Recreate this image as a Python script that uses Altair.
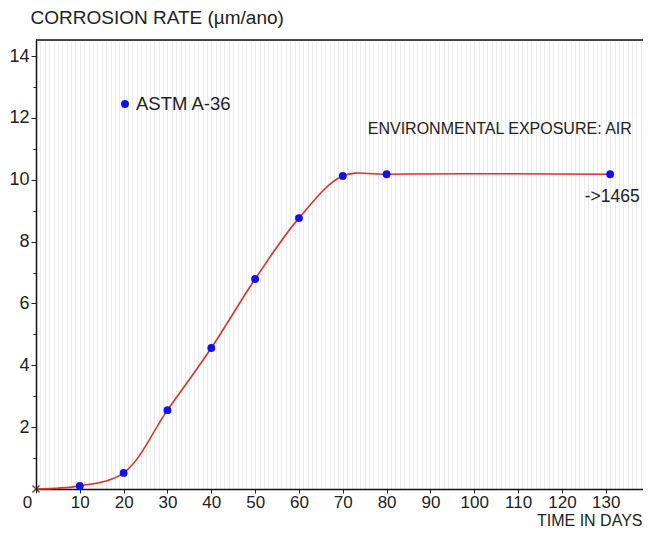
import altair as alt
import pandas as pd

# Measured data (time in days, corrosion rate µm/ano)
days = [10, 20, 30, 40, 50, 60, 70, 80, 131]
rate = [0.1, 0.52, 2.55, 4.56, 6.79, 8.76, 10.12, 10.18, 10.18]

# curve starts at origin
curve_days = [0] + days
curve_rate = [0.0] + rate

origin_x = [0]
origin_y = [0]

legend_x = [20.3]
legend_y = [12.45]
legend_label = ["ASTM A-36"]

env_x = [75.7]
env_y = [11.64]
env_label = ["ENVIRONMENTAL EXPOSURE: AIR"]

note_x = [125.2]
note_y = [9.44]
note_label = ["->1465"]

x_grid_values = list(range(0, 139))
y_tick_values = list(range(1, 15))

FONT = "Liberation Sans"
W, H = 607, 449

pts = pd.DataFrame({"d": days, "r": rate})
curve = pd.DataFrame({"d": curve_days, "r": curve_rate})
origin = pd.DataFrame({"d": origin_x, "r": origin_y})
legend = pd.DataFrame({"d": legend_x, "r": legend_y, "t": legend_label})
env = pd.DataFrame({"d": env_x, "r": env_y, "t": env_label})
note = pd.DataFrame({"d": note_x, "r": note_y, "t": note_label})

xscale = alt.Scale(domain=[0, 138.5], nice=False, zero=False)
yscale = alt.Scale(domain=[0, 14.52], nice=False, zero=False)

x_axis = alt.Axis(
    values=x_grid_values,
    grid=True,
    gridColor="#ececec",
    gridWidth=1,
    labelExpr="(datum.value % 10 == 0 && datum.value <= 130) ? datum.value : ''",
    labelOverlap=False,
    labelFlush=False,
    labelFont=FONT,
    labelFontSize=17,
    labelColor="#222222",
    labelPadding=1,
    labelOffset={"condition": {"test": "datum.value == 0", "value": -9}, "value": 0},
    tickOpacity={"condition": {"test": "datum.value % 10 == 0", "value": 1}, "value": 0},
    tickColor="#222222",
    tickSize=4,
    domainColor="#111111",
    domainWidth=1.5,
    title="TIME IN DAYS",
    titleFont=FONT,
    titleFontSize=16,
    titleFontWeight="normal",
    titleColor="#222222",
    titleAlign="right",
    titleAnchor="end",
    titleBaseline="middle",
    titleX=606,
    titleY=31,
)

y_axis = alt.Axis(
    values=y_tick_values,
    grid=False,
    labelExpr="datum.value % 2 == 0 ? datum.value : ''",
    labelOverlap=False,
    labelFlush=False,
    labelFont=FONT,
    labelFontSize=18,
    labelColor="#222222",
    labelPadding=2,
    tickSize={"condition": {"test": "datum.value % 2 == 0", "value": 5}, "value": 3},
    tickColor="#222222",
    domainColor="#111111",
    domainWidth=1.5,
    title="CORROSION RATE (µm/ano)",
    titleFont=FONT,
    titleFontSize=19,
    titleFontWeight="normal",
    titleColor="#222222",
    titleAngle=0,
    titleAlign="left",
    titleBaseline="middle",
    titleX=-6,
    titleY=-23,
)

X = lambda: alt.X("d:Q", scale=xscale, axis=x_axis)
Y = lambda: alt.Y("r:Q", scale=yscale, axis=y_axis)

line = alt.Chart(curve).mark_line(
    color="#e0302a", strokeWidth=1.6, interpolate="catmull-rom"
).encode(x=X(), y=Y())

dots = alt.Chart(pts).mark_point(
    filled=True, color="#1010f0", size=62, opacity=1
).encode(x=X(), y=Y())

cross = alt.Chart(origin).mark_point(
    shape="M-1,-1L1,1M-1,1L1,-1", filled=False, color="#111111", size=50, strokeWidth=1.5
).encode(x=X(), y=Y())

legend_dot = alt.Chart(legend).mark_point(
    filled=True, color="#1010f0", size=62, opacity=1
).encode(x=X(), y=Y())

legend_text = alt.Chart(legend).mark_text(
    align="left", baseline="middle", dx=11, font=FONT, fontSize=18.5, color="#222222"
).encode(x=X(), y=Y(), text="t:N")

env_text = alt.Chart(env).mark_text(
    align="left", baseline="middle", font=FONT, fontSize=16, color="#222222"
).encode(x=X(), y=Y(), text="t:N")

note_text = alt.Chart(note).mark_text(
    align="left", baseline="middle", font=FONT, fontSize=17.5, color="#222222"
).encode(x=X(), y=Y(), text="t:N")

top_border = alt.Chart(origin).mark_rule(color="#111111", strokeWidth=1.5).encode(
    x=alt.value(0), x2=alt.value(W), y=alt.value(0)
)

chart = alt.layer(
    line, dots, cross, legend_dot, legend_text, env_text, note_text, top_border
).properties(
    width=W,
    height=H,
    autosize=alt.AutoSizeParams(type="none"),
    padding={"left": 28, "top": 32, "right": 0, "bottom": 39},
).configure_view(stroke=None).configure(background="white")

chart.save("out.html", embed_options={"renderer": "svg", "actions": False})
